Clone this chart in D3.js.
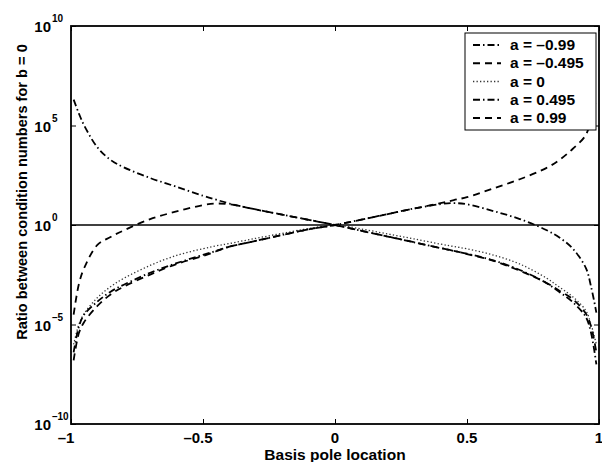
<!DOCTYPE html>
<html><head><meta charset="utf-8">
<script src="https://cdn.jsdelivr.net/npm/d3@7/dist/d3.min.js"></script>
<style>
body{margin:0;background:#fff}
svg{display:block}
text{font-family:"Liberation Sans",Arial,Helvetica,sans-serif;font-weight:bold;fill:#000}
</style>
</head><body>
<svg id="chart" width="602" height="462"></svg>
<script>
// ---- data ----
const polePos = [-0.99,-0.97,-0.95,-0.9,-0.85,-0.8,-0.7,-0.6,-0.5,-0.45,-0.4,-0.3,-0.2,-0.1,0,
                 0.1,0.2,0.3,0.4,0.45,0.5,0.6,0.7,0.8,0.85,0.9,0.95,0.97,0.99];
const seriesLabels = ["a = \u20130.99","a = \u20130.495","a = 0","a = 0.495","a = 0.99"];
// log10 of the ratio between condition numbers
const log10RatioAm099 = [6.3,5.6,5.0,3.9,3.27,2.9,2.36,1.92,1.47,1.27,1.08,0.78,0.52,0.26,0,
                 -0.29,-0.58,-0.87,-1.16,-1.3,-1.44,-1.78,-2.26,-2.91,-3.37,-3.87,-4.62,-5.43,-7.0];
const log10RatioAm0495 = [-4.5,-2.96,-2.16,-1.0,-0.6,-0.27,0.3,0.68,1.0,1.08,1.04,0.78,0.52,0.26,0,
                 -0.29,-0.58,-0.87,-1.16,-1.3,-1.46,-1.8,-2.3,-2.9,-3.3,-3.72,-4.45,-5.1,-6.4];
const log10RatioA0 = [-6.0,-5.0,-4.45,-3.65,-3.1,-2.68,-2.03,-1.53,-1.19,-1.05,-0.93,-0.67,-0.42,-0.18,0,
                 -0.2,-0.45,-0.7,-0.96,-1.08,-1.2,-1.51,-1.96,-2.66,-3.12,-3.6,-4.3,-5.0,-6.0];
const log10RatioA0495 = [-6.4,-5.1,-4.5,-3.85,-3.35,-3.0,-2.4,-1.92,-1.5,-1.3,-1.09,-0.8,-0.5,-0.22,0,
                 0.27,0.55,0.83,1.05,1.1,1.04,0.7,0.3,-0.25,-0.63,-1.18,-2.15,-3.1,-4.4];
const log10RatioA099 = [-6.8,-5.43,-4.87,-4.07,-3.49,-3.1,-2.49,-1.96,-1.56,-1.32,-1.09,-0.8,-0.5,-0.22,0,
                 0.27,0.55,0.83,1.1,1.25,1.4,1.84,2.3,2.86,3.27,3.82,4.52,5.4,6.3];
const refRatio = [1];
const xTicks = [-1,-0.5,0,0.5,1];
const xTickLabels = ["\u20131","\u20130.5","0","0.5","1"];
const yTickExps = [-10,-5,0,5,10];
const yTickExpLabels = ["\u201310","\u20135","0","5","10"];
const xTitle = "Basis pole location";
const yTitle = "Ratio between condition numbers for b = 0";

// ---- layout ----
const L = 71, R = 599, T = 26, B = 424;
const svg = d3.select("#chart");
const x = d3.scaleLinear().domain([-1,1]).range([L,R]);
const y = d3.scaleLog().domain([1e-10,1e10]).range([B,T]);

const seriesData = [log10RatioAm099, log10RatioAm0495, log10RatioA0, log10RatioA0495, log10RatioA099];
const styles = [
  {dash:"7,3,1.5,3", w:1.8, c:"#000"},
  {dash:"7,5", w:1.8, c:"#000"},
  {dash:"1.3,2.2", w:1.3, c:"#333"},
  {dash:"7,3,1.5,3", w:1.8, c:"#000"},
  {dash:"7,5", w:1.8, c:"#000"}
];

svg.append("defs").append("clipPath").attr("id","clip")
  .append("rect").attr("x",L).attr("y",T).attr("width",R-L).attr("height",B-T);

const plot = svg.append("g").attr("clip-path","url(#clip)");

// reference line at ratio = 1
plot.selectAll("line.ref").data(refRatio).enter().append("line")
  .attr("x1",x(-1)).attr("x2",x(1))
  .attr("y1",d=>y(d)).attr("y2",d=>y(d))
  .attr("stroke","#000").attr("stroke-width",1.6);

const line = d3.line()
  .x((d,i)=>x(polePos[i]))
  .y(d=>y(Math.pow(10,d)))
  .curve(d3.curveCatmullRom.alpha(0.5));

seriesData.forEach((s,k)=>{
  plot.append("path").datum(s)
    .attr("d",line)
    .attr("fill","none")
    .attr("stroke",styles[k].c)
    .attr("stroke-width",styles[k].w)
    .attr("stroke-dasharray",styles[k].dash);
});

// axes ticks (inside)
const tk = 5;
svg.append("g").attr("transform",`translate(0,${B})`)
  .call(d3.axisBottom(x).tickValues(xTicks).tickSize(-tk).tickFormat(""))
  .call(g=>{g.select(".domain").remove();g.selectAll("line").attr("stroke-width",1);});
svg.append("g").attr("transform",`translate(0,${T})`)
  .call(d3.axisTop(x).tickValues(xTicks).tickSize(-tk).tickFormat(""))
  .call(g=>{g.select(".domain").remove();g.selectAll("line").attr("stroke-width",1);});
const yTickVals = yTickExps.map(e=>Math.pow(10,e));
svg.append("g").attr("transform",`translate(${L},0)`)
  .call(d3.axisLeft(y).tickValues(yTickVals).tickSize(-tk).tickFormat(""))
  .call(g=>{g.select(".domain").remove();g.selectAll("line").attr("stroke-width",1);});
svg.append("g").attr("transform",`translate(${R},0)`)
  .call(d3.axisRight(y).tickValues(yTickVals).tickSize(-tk).tickFormat(""))
  .call(g=>{g.select(".domain").remove();g.selectAll("line").attr("stroke-width",1);});

// box
svg.append("rect").attr("x",L).attr("y",T).attr("width",R-L).attr("height",B-T)
  .attr("fill","none").attr("stroke","#000").attr("stroke-width",1.8);

// x tick labels
svg.selectAll("text.xt").data(xTicks).enter().append("text")
  .attr("x",d=>x(d)).attr("dx",d=>d<0?-5:0).attr("y",B+19)
  .attr("text-anchor","middle").attr("font-size",15)
  .text((d,i)=>xTickLabels[i]);

// y tick labels: 10 with exponent
const yl = svg.selectAll("g.yt").data(yTickExps).enter().append("g")
  .attr("transform",d=>`translate(0,${y(Math.pow(10,d))})`);
yl.append("text").attr("x",51).attr("y",6).attr("text-anchor","end")
  .attr("font-size",15).text("10");
yl.append("text").attr("x",52).attr("y",-4).attr("text-anchor","start")
  .attr("font-size",10).text((d,i)=>yTickExpLabels[i]);

// axis titles
svg.append("text").attr("x",(L+R)/2).attr("y",460).attr("text-anchor","middle")
  .attr("font-size",15.5).text(xTitle);
svg.append("text").attr("transform","translate(27,192) rotate(-90)")
  .attr("text-anchor","middle").attr("font-size",14.6).text(yTitle);

// legend
const lg = svg.append("g");
lg.append("rect").attr("x",465).attr("y",33).attr("width",131).attr("height",97)
  .attr("fill","#fff").attr("stroke","#000").attr("stroke-width",1);
const rowY = d3.scalePoint().domain(d3.range(seriesLabels.length)).range([45,118]);
seriesLabels.forEach((lab,k)=>{
  const yy = rowY(k);
  lg.append("line").attr("x1",473).attr("x2",501).attr("y1",yy).attr("y2",yy)
    .attr("stroke",styles[k].c).attr("stroke-width",styles[k].w).attr("stroke-dasharray",styles[k].dash);
  lg.append("text").attr("x",510).attr("y",yy+5).attr("font-size",15.5).text(lab);
});
</script>
</body></html>
